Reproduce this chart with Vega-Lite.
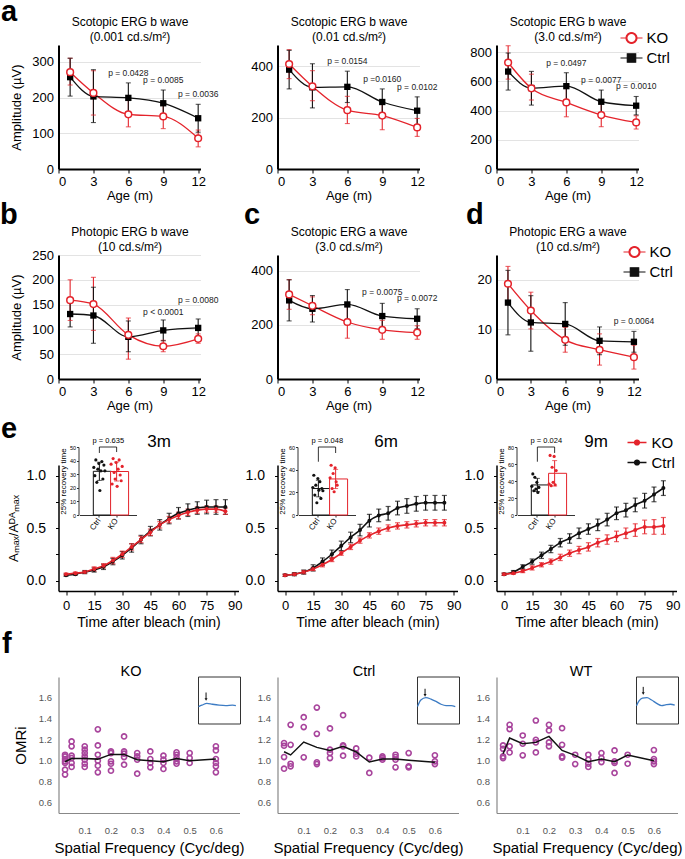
{
"$schema": "https://vega.github.io/schema/vega-lite/v6.json",
"background": "white",
"padding": {"left": -0.5, "top": -3, "right": 2, "bottom": 2},
"bounds": "flush",
"columns": 3,
"spacing": {"row": 86, "column": 38},
"config": {
  "font": "Liberation Sans",
  "view": {"stroke": null},
  "axis": {"grid": false, "domainColor": "#000", "tickColor": "#000", "labelColor": "#000", "titleColor": "#000", "titleFontWeight": "normal", "labelFontSize": 13, "titleFontSize": 13, "labelFont": "Liberation Sans", "titleFont": "Liberation Sans", "labelOverlap": false},
  "title": {"fontWeight": "normal", "color": "#000", "font": "Liberation Sans"},
  "legend": {"labelFont": "Liberation Sans", "padding": 0}
},
"datasets": {
  "a1": [
    {"age":1,"g":"KO","m":271,"lo":235,"hi":310},{"age":3,"g":"KO","m":213,"lo":151,"hi":275},{"age":6,"g":"KO","m":153,"lo":118,"hi":193},{"age":9,"g":"KO","m":147,"lo":113,"hi":182},{"age":12,"g":"KO","m":86,"lo":62,"hi":109},
    {"age":1,"g":"Ctrl","m":257,"lo":204,"hi":310},{"age":3,"g":"Ctrl","m":203,"lo":130,"hi":278},{"age":6,"g":"Ctrl","m":199,"lo":157,"hi":241,"p":"p = 0.0428"},{"age":9,"g":"Ctrl","m":184,"lo":147,"hi":221,"p":"p = 0.0085"},{"age":12,"g":"Ctrl","m":142,"lo":103,"hi":181,"p":"p = 0.0036"}
  ],
  "a2": [
    {"age":1,"g":"KO","m":409,"lo":352,"hi":465},{"age":3,"g":"KO","m":322,"lo":266,"hi":383},{"age":6,"g":"KO","m":229,"lo":177,"hi":283},{"age":9,"g":"KO","m":208,"lo":153,"hi":262},{"age":12,"g":"KO","m":162,"lo":127,"hi":197},
    {"age":1,"g":"Ctrl","m":387,"lo":312,"hi":462},{"age":3,"g":"Ctrl","m":318,"lo":238,"hi":410},{"age":6,"g":"Ctrl","m":320,"lo":259,"hi":381,"p":"p = 0.0154"},{"age":9,"g":"Ctrl","m":261,"lo":210,"hi":312,"p":"p =0.0160"},{"age":12,"g":"Ctrl","m":227,"lo":173,"hi":281,"p":"p = 0.0102"}
  ],
  "a3": [
    {"age":1,"g":"KO","m":730,"lo":616,"hi":845},{"age":3,"g":"KO","m":553,"lo":473,"hi":650},{"age":6,"g":"KO","m":456,"lo":358,"hi":555},{"age":9,"g":"KO","m":370,"lo":290,"hi":455},{"age":12,"g":"KO","m":319,"lo":274,"hi":365},
    {"age":1,"g":"Ctrl","m":668,"lo":541,"hi":795},{"age":3,"g":"Ctrl","m":555,"lo":438,"hi":669},{"age":6,"g":"Ctrl","m":568,"lo":476,"hi":660,"p":"p = 0.0497"},{"age":9,"g":"Ctrl","m":461,"lo":381,"hi":541,"p":"p = 0.0077"},{"age":12,"g":"Ctrl","m":434,"lo":371,"hi":497,"p":"p = 0.0010"}
  ],
  "b": [
    {"age":1,"g":"KO","m":159,"lo":118,"hi":200},{"age":3,"g":"KO","m":151,"lo":98,"hi":205},{"age":6,"g":"KO","m":89,"lo":40,"hi":123},{"age":9,"g":"KO","m":66,"lo":55,"hi":78},{"age":12,"g":"KO","m":81,"lo":72,"hi":91},
    {"age":1,"g":"Ctrl","m":131,"lo":105,"hi":157},{"age":3,"g":"Ctrl","m":128,"lo":72,"hi":185},{"age":6,"g":"Ctrl","m":85,"lo":55,"hi":117},{"age":9,"g":"Ctrl","m":98,"lo":77,"hi":119,"p":"p < 0.0001"},{"age":12,"g":"Ctrl","m":103,"lo":85,"hi":121,"p":"p = 0.0080"}
  ],
  "c": [
    {"age":1,"g":"KO","m":313,"lo":258,"hi":368},{"age":3,"g":"KO","m":271,"lo":238,"hi":304},{"age":6,"g":"KO","m":211,"lo":151,"hi":271},{"age":9,"g":"KO","m":182,"lo":147,"hi":217},{"age":12,"g":"KO","m":172,"lo":147,"hi":197},
    {"age":1,"g":"Ctrl","m":291,"lo":215,"hi":367},{"age":3,"g":"Ctrl","m":260,"lo":211,"hi":309},{"age":6,"g":"Ctrl","m":276,"lo":221,"hi":331},{"age":9,"g":"Ctrl","m":233,"lo":186,"hi":280,"p":"p = 0.0075"},{"age":12,"g":"Ctrl","m":223,"lo":186,"hi":260,"p":"p = 0.0072"}
  ],
  "d": [
    {"age":1,"g":"KO","m":19.2,"lo":15.7,"hi":22.7},{"age":3,"g":"KO","m":13.8,"lo":10.1,"hi":17.5},{"age":6,"g":"KO","m":7.9,"lo":5.4,"hi":10.4},{"age":9,"g":"KO","m":5.9,"lo":2.8,"hi":9.1},{"age":12,"g":"KO","m":4.4,"lo":2.0,"hi":6.8},
    {"age":1,"g":"Ctrl","m":15.4,"lo":8.9,"hi":21.9},{"age":3,"g":"Ctrl","m":11.4,"lo":5.6,"hi":16.8},{"age":6,"g":"Ctrl","m":11.1,"lo":6.8,"hi":15.4},{"age":9,"g":"Ctrl","m":7.7,"lo":4.9,"hi":10.5},{"age":12,"g":"Ctrl","m":7.5,"lo":5.4,"hi":9.6,"p":"p = 0.0064"}
  ],
  "e1": [
    {"t":0,"g":"Ctrl","m":0.05,"lo":0.04,"hi":0.06},{"t":5,"g":"Ctrl","m":0.06,"lo":0.05,"hi":0.07},{"t":10,"g":"Ctrl","m":0.08,"lo":0.065,"hi":0.095},{"t":15,"g":"Ctrl","m":0.10,"lo":0.08,"hi":0.12},{"t":20,"g":"Ctrl","m":0.13,"lo":0.105,"hi":0.155},{"t":25,"g":"Ctrl","m":0.18,"lo":0.15,"hi":0.21},{"t":30,"g":"Ctrl","m":0.24,"lo":0.205,"hi":0.275},{"t":35,"g":"Ctrl","m":0.31,"lo":0.27,"hi":0.35},{"t":40,"g":"Ctrl","m":0.39,"lo":0.35,"hi":0.43},{"t":45,"g":"Ctrl","m":0.47,"lo":0.425,"hi":0.515},{"t":50,"g":"Ctrl","m":0.53,"lo":0.48,"hi":0.58},{"t":55,"g":"Ctrl","m":0.59,"lo":0.54,"hi":0.64},{"t":60,"g":"Ctrl","m":0.64,"lo":0.585,"hi":0.695},{"t":65,"g":"Ctrl","m":0.67,"lo":0.61,"hi":0.73},{"t":70,"g":"Ctrl","m":0.69,"lo":0.63,"hi":0.75},{"t":75,"g":"Ctrl","m":0.70,"lo":0.635,"hi":0.765},{"t":80,"g":"Ctrl","m":0.70,"lo":0.63,"hi":0.77},{"t":85,"g":"Ctrl","m":0.70,"lo":0.63,"hi":0.77},
    {"t":0,"g":"KO","m":0.06,"lo":0.05,"hi":0.07},{"t":5,"g":"KO","m":0.07,"lo":0.06,"hi":0.08},{"t":10,"g":"KO","m":0.08,"lo":0.07,"hi":0.09},{"t":15,"g":"KO","m":0.11,"lo":0.09,"hi":0.13},{"t":20,"g":"KO","m":0.14,"lo":0.12,"hi":0.16},{"t":25,"g":"KO","m":0.19,"lo":0.16,"hi":0.22},{"t":30,"g":"KO","m":0.25,"lo":0.22,"hi":0.28},{"t":35,"g":"KO","m":0.32,"lo":0.29,"hi":0.35},{"t":40,"g":"KO","m":0.39,"lo":0.36,"hi":0.42},{"t":45,"g":"KO","m":0.46,"lo":0.43,"hi":0.49},{"t":50,"g":"KO","m":0.53,"lo":0.50,"hi":0.56},{"t":55,"g":"KO","m":0.58,"lo":0.55,"hi":0.61},{"t":60,"g":"KO","m":0.62,"lo":0.59,"hi":0.65},{"t":65,"g":"KO","m":0.65,"lo":0.62,"hi":0.68},{"t":70,"g":"KO","m":0.67,"lo":0.64,"hi":0.70},{"t":75,"g":"KO","m":0.68,"lo":0.65,"hi":0.71},{"t":80,"g":"KO","m":0.68,"lo":0.65,"hi":0.71},{"t":85,"g":"KO","m":0.66,"lo":0.63,"hi":0.69}
  ],
  "e2": [
    {"t":0,"g":"Ctrl","m":0.05,"lo":0.04,"hi":0.06},{"t":5,"g":"Ctrl","m":0.06,"lo":0.045,"hi":0.075},{"t":10,"g":"Ctrl","m":0.08,"lo":0.06,"hi":0.10},{"t":15,"g":"Ctrl","m":0.12,"lo":0.09,"hi":0.15},{"t":20,"g":"Ctrl","m":0.18,"lo":0.145,"hi":0.215},{"t":25,"g":"Ctrl","m":0.25,"lo":0.21,"hi":0.29},{"t":30,"g":"Ctrl","m":0.33,"lo":0.285,"hi":0.375},{"t":35,"g":"Ctrl","m":0.41,"lo":0.36,"hi":0.46},{"t":40,"g":"Ctrl","m":0.48,"lo":0.425,"hi":0.535},{"t":45,"g":"Ctrl","m":0.57,"lo":0.51,"hi":0.63},{"t":50,"g":"Ctrl","m":0.62,"lo":0.56,"hi":0.68},{"t":55,"g":"Ctrl","m":0.64,"lo":0.575,"hi":0.705},{"t":60,"g":"Ctrl","m":0.69,"lo":0.625,"hi":0.755},{"t":65,"g":"Ctrl","m":0.71,"lo":0.64,"hi":0.78},{"t":70,"g":"Ctrl","m":0.73,"lo":0.66,"hi":0.80},{"t":75,"g":"Ctrl","m":0.74,"lo":0.67,"hi":0.81},{"t":80,"g":"Ctrl","m":0.74,"lo":0.67,"hi":0.81},{"t":85,"g":"Ctrl","m":0.74,"lo":0.67,"hi":0.81},
    {"t":0,"g":"KO","m":0.05,"lo":0.04,"hi":0.06},{"t":5,"g":"KO","m":0.06,"lo":0.05,"hi":0.07},{"t":10,"g":"KO","m":0.08,"lo":0.065,"hi":0.095},{"t":15,"g":"KO","m":0.11,"lo":0.095,"hi":0.125},{"t":20,"g":"KO","m":0.15,"lo":0.13,"hi":0.17},{"t":25,"g":"KO","m":0.20,"lo":0.18,"hi":0.22},{"t":30,"g":"KO","m":0.26,"lo":0.24,"hi":0.28},{"t":35,"g":"KO","m":0.32,"lo":0.295,"hi":0.345},{"t":40,"g":"KO","m":0.38,"lo":0.355,"hi":0.405},{"t":45,"g":"KO","m":0.43,"lo":0.405,"hi":0.455},{"t":50,"g":"KO","m":0.47,"lo":0.44,"hi":0.50},{"t":55,"g":"KO","m":0.50,"lo":0.47,"hi":0.53},{"t":60,"g":"KO","m":0.52,"lo":0.49,"hi":0.55},{"t":65,"g":"KO","m":0.53,"lo":0.50,"hi":0.56},{"t":70,"g":"KO","m":0.54,"lo":0.51,"hi":0.57},{"t":75,"g":"KO","m":0.55,"lo":0.52,"hi":0.58},{"t":80,"g":"KO","m":0.55,"lo":0.52,"hi":0.58},{"t":85,"g":"KO","m":0.55,"lo":0.52,"hi":0.58}
  ],
  "e3": [
    {"t":0,"g":"Ctrl","m":0.06,"lo":0.05,"hi":0.07},{"t":5,"g":"Ctrl","m":0.08,"lo":0.065,"hi":0.095},{"t":10,"g":"Ctrl","m":0.13,"lo":0.11,"hi":0.15},{"t":15,"g":"Ctrl","m":0.18,"lo":0.155,"hi":0.205},{"t":20,"g":"Ctrl","m":0.24,"lo":0.21,"hi":0.27},{"t":25,"g":"Ctrl","m":0.30,"lo":0.265,"hi":0.335},{"t":30,"g":"Ctrl","m":0.36,"lo":0.32,"hi":0.40},{"t":35,"g":"Ctrl","m":0.40,"lo":0.355,"hi":0.445},{"t":40,"g":"Ctrl","m":0.45,"lo":0.40,"hi":0.50},{"t":45,"g":"Ctrl","m":0.49,"lo":0.44,"hi":0.54},{"t":50,"g":"Ctrl","m":0.53,"lo":0.475,"hi":0.585},{"t":55,"g":"Ctrl","m":0.58,"lo":0.52,"hi":0.64},{"t":60,"g":"Ctrl","m":0.64,"lo":0.58,"hi":0.70},{"t":65,"g":"Ctrl","m":0.67,"lo":0.605,"hi":0.735},{"t":70,"g":"Ctrl","m":0.72,"lo":0.655,"hi":0.785},{"t":75,"g":"Ctrl","m":0.76,"lo":0.69,"hi":0.83},{"t":80,"g":"Ctrl","m":0.82,"lo":0.75,"hi":0.89},{"t":85,"g":"Ctrl","m":0.88,"lo":0.81,"hi":0.95},
    {"t":0,"g":"KO","m":0.06,"lo":0.05,"hi":0.07},{"t":5,"g":"KO","m":0.07,"lo":0.06,"hi":0.08},{"t":10,"g":"KO","m":0.09,"lo":0.075,"hi":0.105},{"t":15,"g":"KO","m":0.12,"lo":0.10,"hi":0.14},{"t":20,"g":"KO","m":0.15,"lo":0.13,"hi":0.17},{"t":25,"g":"KO","m":0.18,"lo":0.155,"hi":0.205},{"t":30,"g":"KO","m":0.22,"lo":0.19,"hi":0.25},{"t":35,"g":"KO","m":0.26,"lo":0.23,"hi":0.29},{"t":40,"g":"KO","m":0.29,"lo":0.255,"hi":0.325},{"t":45,"g":"KO","m":0.32,"lo":0.28,"hi":0.36},{"t":50,"g":"KO","m":0.36,"lo":0.32,"hi":0.40},{"t":55,"g":"KO","m":0.39,"lo":0.345,"hi":0.435},{"t":60,"g":"KO","m":0.42,"lo":0.37,"hi":0.47},{"t":65,"g":"KO","m":0.45,"lo":0.40,"hi":0.50},{"t":70,"g":"KO","m":0.48,"lo":0.42,"hi":0.54},{"t":75,"g":"KO","m":0.51,"lo":0.445,"hi":0.575},{"t":80,"g":"KO","m":0.51,"lo":0.44,"hi":0.58},{"t":85,"g":"KO","m":0.52,"lo":0.44,"hi":0.60}
  ],
  "e1i": [
    {"g":"Ctrl","r":1,"v":35},{"g":"Ctrl","r":2,"v":28.9},{"g":"Ctrl","r":3,"v":40.5},{"g":"Ctrl","r":4,"v":24},{"g":"Ctrl","r":5,"v":33.7},{"g":"Ctrl","r":6,"v":37.9},{"g":"Ctrl","r":7,"v":18},{"g":"Ctrl","r":8,"v":32.5},{"g":"Ctrl","r":9,"v":39.3},{"g":"Ctrl","r":10,"v":26.5},{"g":"Ctrl","r":11,"v":36.7},{"g":"Ctrl","r":12,"v":32.5},
    {"g":"KO","r":1,"v":37.4},{"g":"KO","r":2,"v":22.8},{"g":"KO","r":3,"v":41.5},{"g":"KO","r":4,"v":31.3},{"g":"KO","r":5,"v":26.5},{"g":"KO","r":6,"v":38.6},{"g":"KO","r":7,"v":21.1},{"g":"KO","r":8,"v":33.7},{"g":"KO","r":9,"v":40.5},{"g":"KO","r":10,"v":29.4},{"g":"KO","r":11,"v":25.2},{"g":"KO","r":12,"v":35.7}
  ],
  "e2i": [
    {"g":"Ctrl","r":1,"v":24.3},{"g":"Ctrl","r":2,"v":35.1},{"g":"Ctrl","r":3,"v":17.6},{"g":"Ctrl","r":4,"v":26.3},{"g":"Ctrl","r":5,"v":10.8},{"g":"Ctrl","r":6,"v":32.2},{"g":"Ctrl","r":7,"v":21.9},{"g":"Ctrl","r":8,"v":29.3},{"g":"Ctrl","r":9,"v":14.6},{"g":"Ctrl","r":10,"v":23.4},{"g":"Ctrl","r":11,"v":21.4},
    {"g":"KO","r":1,"v":32.8},{"g":"KO","r":2,"v":43.9},{"g":"KO","r":3,"v":23.4},{"g":"KO","r":4,"v":36.6},{"g":"KO","r":5,"v":20.5},{"g":"KO","r":6,"v":41.6},{"g":"KO","r":7,"v":29.3},{"g":"KO","r":8,"v":26.3}
  ],
  "e3i": [
    {"g":"Ctrl","r":1,"v":33.7},{"g":"Ctrl","r":2,"v":48.3},{"g":"Ctrl","r":3,"v":28.5},{"g":"Ctrl","r":4,"v":44.4},{"g":"Ctrl","r":5,"v":30.5},{"g":"Ctrl","r":6,"v":38.4},{"g":"Ctrl","r":7,"v":26.5},{"g":"Ctrl","r":8,"v":32.5},
    {"g":"KO","r":1,"v":36.4},{"g":"KO","r":2,"v":70.1},{"g":"KO","r":3,"v":34.5},{"g":"KO","r":4,"v":56.2},{"g":"KO","r":5,"v":38.4},{"g":"KO","r":6,"v":68.9},{"g":"KO","r":7,"v":35.6},{"g":"KO","r":8,"v":52.3}
  ],
  "fko": [
    {"x":0.025,"m":0.99,"vs":[1.057,1.041,1.016,0.994,0.978,0.914,0.867]},
    {"x":0.05,"m":1.02,"vs":[1.184,1.137,1.048,1.025,0.978,0.94]},
    {"x":0.1,"m":1.02,"vs":[1.137,1.105,1.073,1.041,1.01,0.971,0.94]},
    {"x":0.15,"m":1.015,"vs":[1.30,1.146,1.057,1.0,0.952,0.889]},
    {"x":0.2,"m":1.06,"vs":[1.089,1.073,0.994,0.971,0.905]},
    {"x":0.25,"m":1.06,"vs":[1.232,1.089,1.067,1.035,0.962]},
    {"x":0.3,"m":1.01,"vs":[1.073,1.041,1.01,0.876]},
    {"x":0.35,"m":1.0,"vs":[1.089,1.016,0.978,0.937]},
    {"x":0.4,"m":0.99,"vs":[1.048,1.01,0.978,0.921]},
    {"x":0.45,"m":1.02,"vs":[1.08,1.057,1.025,0.994,0.971]},
    {"x":0.5,"m":1.0,"vs":[1.073,1.025,0.978]},
    {"x":0.6,"m":1.015,"vs":[1.137,1.098,1.016,0.978,0.946,0.889]}
  ],
  "fctrl": [
    {"x":0.025,"m":1.085,"vs":[1.168,1.143,1.035,0.924]},
    {"x":0.05,"m":1.055,"vs":[1.343,1.152,0.971,0.946]},
    {"x":0.1,"m":1.178,"vs":[1.416,1.321,1.032]},
    {"x":0.15,"m":1.127,"vs":[1.508,1.257,0.984,0.968]},
    {"x":0.2,"m":1.098,"vs":[1.308,1.105,1.073,1.025]},
    {"x":0.25,"m":1.137,"vs":[1.435,1.146,1.137,1.048]},
    {"x":0.3,"m":1.083,"vs":[1.117,1.067,1.041]},
    {"x":0.35,"m":0.987,"vs":[1.029,0.883]},
    {"x":0.4,"m":1.016,"vs":[1.041,1.025,1.01]},
    {"x":0.45,"m":1.016,"vs":[1.057,1.035,1.01,0.937]},
    {"x":0.5,"m":1.005,"vs":[1.073,0.946,0.937]},
    {"x":0.6,"m":0.984,"vs":[1.051,0.994,0.968]}
  ],
  "fwt": [
    {"x":0.025,"m":1.067,"vs":[1.146,1.114,1.041,1.025]},
    {"x":0.05,"m":1.216,"vs":[1.343,1.302,1.137,1.079]},
    {"x":0.1,"m":1.162,"vs":[1.241,1.162,1.051]},
    {"x":0.15,"m":1.175,"vs":[1.384,1.2,1.175,1.079]},
    {"x":0.2,"m":1.232,"vs":[1.343,1.289,1.175,1.137]},
    {"x":0.25,"m":1.098,"vs":[1.311,1.152,1.041,1.029]},
    {"x":0.3,"m":1.051,"vs":[1.057,0.968]},
    {"x":0.35,"m":0.99,"vs":[1.057,1.01,0.971,0.94]},
    {"x":0.4,"m":1.016,"vs":[1.073,1.025,0.987]},
    {"x":0.45,"m":0.99,"vs":[1.098,0.994,0.978,0.883]},
    {"x":0.5,"m":1.054,"vs":[1.057,0.971]},
    {"x":0.6,"m":1.0,"vs":[1.102,1.016,0.994,0.968]}
  ],
  "cko": [{"cx":0,"cy":0.37},{"cx":0.08,"cy":0.40},{"cx":0.2,"cy":0.44},{"cx":0.33,"cy":0.42},{"cx":0.49,"cy":0.40},{"cx":0.65,"cy":0.39},{"cx":0.81,"cy":0.40},{"cx":0.89,"cy":0.39}],
  "cctrl": [{"cx":0,"cy":0.37},{"cx":0.08,"cy":0.51},{"cx":0.2,"cy":0.56},{"cx":0.32,"cy":0.53},{"cx":0.44,"cy":0.48},{"cx":0.56,"cy":0.42},{"cx":0.68,"cy":0.39},{"cx":0.8,"cy":0.39},{"cx":0.9,"cy":0.37}],
  "cwt": [{"cx":0,"cy":0.39},{"cx":0.06,"cy":0.49},{"cx":0.14,"cy":0.55},{"cx":0.25,"cy":0.56},{"cx":0.36,"cy":0.51},{"cx":0.48,"cy":0.44},{"cx":0.6,"cy":0.39},{"cx":0.71,"cy":0.41},{"cx":0.81,"cy":0.42},{"cx":0.91,"cy":0.40}]
},
"concat": [
{
 "width": 142, "height": 124,
 "data": {"name": "a1"},
 "resolve": {"axis": {"x": "independent", "y": "independent"}},
 "layer": [
  {"layer": [
   {"mark": {"type": "rule", "strokeWidth": 1.1}, "encoding": {
     "x": {"field": "age", "type": "quantitative", "scale": {"domain": [0, 12.2], "nice": false}, "axis": {"values": [0,3,6,9,12], "tickCount": 20, "format": "d", "title": "Age (m)", "tickSize": 4, "domainWidth": 2, "labelPadding": 2, "titlePadding": 1}},
     "y": {"field": "lo", "type": "quantitative", "scale": {"domain": [0, 347], "nice": false}, "axis": {"values": [0,100,200,300], "tickCount": 20, "format": "d", "title": "Amplitude (µV)", "grid": true, "gridColor": "#e3e3e3", "ticks": false, "domainWidth": 2, "labelPadding": 5, "titlePadding": 8}},
     "y2": {"field": "hi"},
     "stroke": {"field": "g", "type": "nominal", "scale": {"domain": ["KO","Ctrl"], "range": ["#e4232b","#111111"]}, "legend": null}}},
   {"mark": {"type": "tick", "orient": "horizontal", "size": 5, "thickness": 1.1}, "encoding": {"x": {"field": "age", "type": "quantitative"}, "y": {"field": "hi", "type": "quantitative"}, "color": {"field": "g", "type": "nominal", "scale": {"domain": ["KO","Ctrl"], "range": ["#e4232b","#111111"]}, "legend": null}}},
   {"mark": {"type": "tick", "orient": "horizontal", "size": 5, "thickness": 1.1}, "encoding": {"x": {"field": "age", "type": "quantitative"}, "y": {"field": "lo", "type": "quantitative"}, "color": {"field": "g", "type": "nominal", "legend": null}}},
   {"mark": {"type": "line", "interpolate": "monotone", "strokeWidth": 1.3}, "encoding": {"x": {"field": "age", "type": "quantitative"}, "y": {"field": "m", "type": "quantitative"}, "stroke": {"field": "g", "type": "nominal", "legend": null}}},
   {"transform": [{"filter": "datum.g == 'Ctrl'"}], "mark": {"type": "point", "shape": "square", "filled": true, "color": "#000", "opacity": 1, "size": 40}, "encoding": {"x": {"field": "age", "type": "quantitative"}, "y": {"field": "m", "type": "quantitative"}}},
   {"transform": [{"filter": "datum.g == 'KO'"}], "mark": {"type": "point", "shape": "circle", "filled": true, "fill": "#fff", "stroke": "#e4232b", "strokeWidth": 1.5, "opacity": 1, "size": 45}, "encoding": {"x": {"field": "age", "type": "quantitative"}, "y": {"field": "m", "type": "quantitative"}}},
   {"transform": [{"filter": "isValid(datum.p)"}], "mark": {"type": "text", "fontSize": 8.5, "dy": -10, "color": "#222"}, "encoding": {"x": {"field": "age", "type": "quantitative"}, "y": {"field": "hi", "type": "quantitative"}, "text": {"field": "p", "type": "nominal"}}}
  ]},
  {"mark": {"type": "text"}, "encoding": {
    "x": {"datum": 0, "type": "quantitative", "axis": {"orient": "top", "domain": false, "ticks": false, "labels": false, "grid": false, "title": ["Scotopic ERG b wave", "(0.001 cd.s/m²)"], "titleFontSize": 12, "titleLineHeight": 15, "titlePadding": 2}},
    "y": {"datum": 0, "type": "quantitative", "axis": {"orient": "left", "domain": false, "ticks": false, "labels": false, "grid": false, "title": "a", "titleAngle": 0, "titleFontSize": 29, "titleFontWeight": "bold", "titleAlign": "left", "titleBaseline": "alphabetic", "titleX": -58, "titleY": -25}},
    "text": {"value": ""}}}
 ]
},
{
 "width": 142, "height": 124,
 "data": {"name": "a2"},
 "resolve": {"axis": {"x": "independent"}},
 "layer": [
  {"layer": [
   {"mark": {"type": "rule", "strokeWidth": 1.1}, "encoding": {
     "x": {"field": "age", "type": "quantitative", "scale": {"domain": [0, 12.2], "nice": false}, "axis": {"values": [0,3,6,9,12], "tickCount": 20, "format": "d", "title": "Age (m)", "tickSize": 4, "domainWidth": 2, "labelPadding": 2, "titlePadding": 1}},
     "y": {"field": "lo", "type": "quantitative", "scale": {"domain": [0, 483], "nice": false}, "axis": {"values": [0,200,400], "tickCount": 20, "format": "d", "title": null, "grid": true, "gridColor": "#e3e3e3", "ticks": false, "domainWidth": 2, "labelPadding": 5}},
     "y2": {"field": "hi"},
     "stroke": {"field": "g", "type": "nominal", "scale": {"domain": ["KO","Ctrl"], "range": ["#e4232b","#111111"]}, "legend": null}}},
   {"mark": {"type": "tick", "orient": "horizontal", "size": 5, "thickness": 1.1}, "encoding": {"x": {"field": "age", "type": "quantitative"}, "y": {"field": "hi", "type": "quantitative"}, "color": {"field": "g", "type": "nominal", "scale": {"domain": ["KO","Ctrl"], "range": ["#e4232b","#111111"]}, "legend": null}}},
   {"mark": {"type": "tick", "orient": "horizontal", "size": 5, "thickness": 1.1}, "encoding": {"x": {"field": "age", "type": "quantitative"}, "y": {"field": "lo", "type": "quantitative"}, "color": {"field": "g", "type": "nominal", "legend": null}}},
   {"mark": {"type": "line", "interpolate": "monotone", "strokeWidth": 1.3}, "encoding": {"x": {"field": "age", "type": "quantitative"}, "y": {"field": "m", "type": "quantitative"}, "stroke": {"field": "g", "type": "nominal", "legend": null}}},
   {"transform": [{"filter": "datum.g == 'Ctrl'"}], "mark": {"type": "point", "shape": "square", "filled": true, "color": "#000", "opacity": 1, "size": 40}, "encoding": {"x": {"field": "age", "type": "quantitative"}, "y": {"field": "m", "type": "quantitative"}}},
   {"transform": [{"filter": "datum.g == 'KO'"}], "mark": {"type": "point", "shape": "circle", "filled": true, "fill": "#fff", "stroke": "#e4232b", "strokeWidth": 1.5, "opacity": 1, "size": 45}, "encoding": {"x": {"field": "age", "type": "quantitative"}, "y": {"field": "m", "type": "quantitative"}}},
   {"transform": [{"filter": "isValid(datum.p)"}], "mark": {"type": "text", "fontSize": 8.5, "dy": -10, "color": "#222"}, "encoding": {"x": {"field": "age", "type": "quantitative"}, "y": {"field": "hi", "type": "quantitative"}, "text": {"field": "p", "type": "nominal"}}}
  ]},
  {"mark": {"type": "text"}, "encoding": {
    "x": {"datum": 0, "type": "quantitative", "axis": {"orient": "top", "domain": false, "ticks": false, "labels": false, "grid": false, "title": ["Scotopic ERG b wave", "(0.01 cd.s/m²)"], "titleFontSize": 12, "titleLineHeight": 15, "titlePadding": 2}},
    "text": {"value": ""}}}
 ]
},
{
 "width": 142, "height": 124,
 "data": {"name": "a3"},
 "resolve": {"axis": {"x": "independent"}},
 "layer": [
  {"layer": [
   {"mark": {"type": "rule", "strokeWidth": 1.1}, "encoding": {
     "x": {"field": "age", "type": "quantitative", "scale": {"domain": [0, 12.2], "nice": false}, "axis": {"values": [0,3,6,9,12], "tickCount": 20, "format": "d", "title": "Age (m)", "tickSize": 4, "domainWidth": 2, "labelPadding": 2, "titlePadding": 1}},
     "y": {"field": "lo", "type": "quantitative", "scale": {"domain": [0, 850], "nice": false}, "axis": {"values": [0,200,400,600,800], "tickCount": 20, "format": "d", "title": null, "grid": true, "gridColor": "#e3e3e3", "ticks": false, "domainWidth": 2, "labelPadding": 5}},
     "y2": {"field": "hi"},
     "stroke": {"field": "g", "type": "nominal", "scale": {"domain": ["KO","Ctrl"], "range": ["#e4232b","#111111"]}}}},
   {"mark": {"type": "tick", "orient": "horizontal", "size": 5, "thickness": 1.1}, "encoding": {"x": {"field": "age", "type": "quantitative"}, "y": {"field": "hi", "type": "quantitative"}, "color": {"field": "g", "type": "nominal", "scale": {"domain": ["KO","Ctrl"], "range": ["#e4232b","#111111"]}, "legend": null}}},
   {"mark": {"type": "tick", "orient": "horizontal", "size": 5, "thickness": 1.1}, "encoding": {"x": {"field": "age", "type": "quantitative"}, "y": {"field": "lo", "type": "quantitative"}, "color": {"field": "g", "type": "nominal", "legend": null}}},
   {"mark": {"type": "line", "interpolate": "monotone", "strokeWidth": 1.3}, "encoding": {"x": {"field": "age", "type": "quantitative"}, "y": {"field": "m", "type": "quantitative"}, "stroke": {"field": "g", "type": "nominal"}}},
   {"transform": [{"filter": "datum.g == 'Ctrl'"}], "mark": {"type": "point", "shape": "square", "filled": true, "color": "#000", "opacity": 1, "size": 40}, "encoding": {"x": {"field": "age", "type": "quantitative"}, "y": {"field": "m", "type": "quantitative"}}},
   {"transform": [{"filter": "datum.g == 'KO'"}], "mark": {"type": "point", "shape": "circle", "filled": true, "fill": "#fff", "stroke": "#e4232b", "strokeWidth": 1.5, "opacity": 1, "size": 45}, "encoding": {"x": {"field": "age", "type": "quantitative"}, "y": {"field": "m", "type": "quantitative"}}},
   {"transform": [{"filter": "isValid(datum.p)"}], "mark": {"type": "text", "fontSize": 8.5, "dy": -10, "color": "#222"}, "encoding": {"x": {"field": "age", "type": "quantitative"}, "y": {"field": "hi", "type": "quantitative"}, "text": {"field": "p", "type": "nominal"}}},
   {"transform": [{"filter": "false"}], "mark": {"type": "point", "filled": true, "opacity": 1, "strokeWidth": 1.2}, "encoding": {
     "shape": {"field": "g", "type": "nominal", "scale": {"domain": ["KO","Ctrl"], "range": ["M-1,0H-0.5M0.5,0H1M-0.5,0A0.5,0.5,0,1,0,0.5,0A0.5,0.5,0,1,0,-0.5,0ZM-0.42,0A0.42,0.42,0,1,1,0.42,0A0.42,0.42,0,1,1,-0.42,0Z", "M-1,0H1M-0.38,-0.38H0.38V0.38H-0.38Z"]}, "legend": {"orient": "none", "legendX": 123, "legendY": -19, "title": null, "labelFontSize": 15, "symbolSize": 484, "symbolStrokeWidth": 1.2, "rowPadding": -6, "labelOffset": 3}},
     "fill": {"field": "g", "type": "nominal", "scale": {"domain": ["KO","Ctrl"], "range": ["#e4232b","#111111"]}, "legend": {"orient": "none", "legendX": 123, "legendY": -19, "title": null, "labelFontSize": 15, "symbolSize": 484, "symbolStrokeWidth": 1.2, "rowPadding": -6, "labelOffset": 3}},
     "stroke": {"field": "g", "type": "nominal", "legend": {"orient": "none", "legendX": 123, "legendY": -19, "title": null, "labelFontSize": 15, "symbolSize": 484, "symbolStrokeWidth": 1.2, "rowPadding": -6, "labelOffset": 3}}}}
  ]},
  {"mark": {"type": "text"}, "encoding": {
    "x": {"datum": 0, "type": "quantitative", "axis": {"orient": "top", "domain": false, "ticks": false, "labels": false, "grid": false, "title": ["Scotopic ERG b wave", "(3.0 cd.s/m²)"], "titleFontSize": 12, "titleLineHeight": 15, "titlePadding": 2}},
    "text": {"value": ""}}}
 ]
},
{
 "width": 142, "height": 124,
 "data": {"name": "b"},
 "resolve": {"axis": {"x": "independent", "y": "independent"}},
 "layer": [
  {"layer": [
   {"mark": {"type": "rule", "strokeWidth": 1.1}, "encoding": {
     "x": {"field": "age", "type": "quantitative", "scale": {"domain": [0, 12.2], "nice": false}, "axis": {"values": [0,3,6,9,12], "tickCount": 20, "format": "d", "title": "Age (m)", "tickSize": 4, "domainWidth": 2, "labelPadding": 2, "titlePadding": 1}},
     "y": {"field": "lo", "type": "quantitative", "scale": {"domain": [0, 250], "nice": false}, "axis": {"values": [0,50,100,150,200,250], "tickCount": 20, "format": "d", "title": "Amplitude (µV)", "grid": true, "gridColor": "#e3e3e3", "ticks": false, "domainWidth": 2, "labelPadding": 5, "titlePadding": 8}},
     "y2": {"field": "hi"},
     "stroke": {"field": "g", "type": "nominal", "scale": {"domain": ["KO","Ctrl"], "range": ["#e4232b","#111111"]}, "legend": null}}},
   {"mark": {"type": "tick", "orient": "horizontal", "size": 5, "thickness": 1.1}, "encoding": {"x": {"field": "age", "type": "quantitative"}, "y": {"field": "hi", "type": "quantitative"}, "color": {"field": "g", "type": "nominal", "scale": {"domain": ["KO","Ctrl"], "range": ["#e4232b","#111111"]}, "legend": null}}},
   {"mark": {"type": "tick", "orient": "horizontal", "size": 5, "thickness": 1.1}, "encoding": {"x": {"field": "age", "type": "quantitative"}, "y": {"field": "lo", "type": "quantitative"}, "color": {"field": "g", "type": "nominal", "legend": null}}},
   {"mark": {"type": "line", "interpolate": "monotone", "strokeWidth": 1.3}, "encoding": {"x": {"field": "age", "type": "quantitative"}, "y": {"field": "m", "type": "quantitative"}, "stroke": {"field": "g", "type": "nominal", "legend": null}}},
   {"transform": [{"filter": "datum.g == 'Ctrl'"}], "mark": {"type": "point", "shape": "square", "filled": true, "color": "#000", "opacity": 1, "size": 40}, "encoding": {"x": {"field": "age", "type": "quantitative"}, "y": {"field": "m", "type": "quantitative"}}},
   {"transform": [{"filter": "datum.g == 'KO'"}], "mark": {"type": "point", "shape": "circle", "filled": true, "fill": "#fff", "stroke": "#e4232b", "strokeWidth": 1.5, "opacity": 1, "size": 45}, "encoding": {"x": {"field": "age", "type": "quantitative"}, "y": {"field": "m", "type": "quantitative"}}},
   {"transform": [{"filter": "isValid(datum.p) && datum.age == 9"}], "mark": {"type": "text", "fontSize": 8.5, "dy": -8, "color": "#222"}, "encoding": {"x": {"field": "age", "type": "quantitative"}, "y": {"field": "hi", "type": "quantitative"}, "text": {"field": "p", "type": "nominal"}}},
   {"transform": [{"filter": "isValid(datum.p) && datum.age == 12"}], "mark": {"type": "text", "fontSize": 8.5, "dy": -19, "color": "#222"}, "encoding": {"x": {"field": "age", "type": "quantitative"}, "y": {"field": "hi", "type": "quantitative"}, "text": {"field": "p", "type": "nominal"}}}
  ]},
  {"mark": {"type": "text"}, "encoding": {
    "x": {"datum": 0, "type": "quantitative", "axis": {"orient": "top", "domain": false, "ticks": false, "labels": false, "grid": false, "title": ["Photopic ERG b wave", "(10 cd.s/m²)"], "titleFontSize": 12, "titleLineHeight": 15, "titlePadding": 2}},
    "y": {"datum": 0, "type": "quantitative", "axis": {"orient": "left", "domain": false, "ticks": false, "labels": false, "grid": false, "title": "b", "titleAngle": 0, "titleFontSize": 29, "titleFontWeight": "bold", "titleAlign": "left", "titleBaseline": "alphabetic", "titleX": -59, "titleY": -32}},
    "text": {"value": ""}}}
 ]
},
{
 "width": 142, "height": 124,
 "data": {"name": "c"},
 "resolve": {"axis": {"x": "independent", "y": "independent"}},
 "layer": [
  {"layer": [
   {"mark": {"type": "rule", "strokeWidth": 1.1}, "encoding": {
     "x": {"field": "age", "type": "quantitative", "scale": {"domain": [0, 12.2], "nice": false}, "axis": {"values": [0,3,6,9,12], "tickCount": 20, "format": "d", "title": "Age (m)", "tickSize": 4, "domainWidth": 2, "labelPadding": 2, "titlePadding": 1}},
     "y": {"field": "lo", "type": "quantitative", "scale": {"domain": [0, 459], "nice": false}, "axis": {"values": [0,200,400], "tickCount": 20, "format": "d", "title": null, "grid": true, "gridColor": "#e3e3e3", "ticks": false, "domainWidth": 2, "labelPadding": 5}},
     "y2": {"field": "hi"},
     "stroke": {"field": "g", "type": "nominal", "scale": {"domain": ["KO","Ctrl"], "range": ["#e4232b","#111111"]}, "legend": null}}},
   {"mark": {"type": "tick", "orient": "horizontal", "size": 5, "thickness": 1.1}, "encoding": {"x": {"field": "age", "type": "quantitative"}, "y": {"field": "hi", "type": "quantitative"}, "color": {"field": "g", "type": "nominal", "scale": {"domain": ["KO","Ctrl"], "range": ["#e4232b","#111111"]}, "legend": null}}},
   {"mark": {"type": "tick", "orient": "horizontal", "size": 5, "thickness": 1.1}, "encoding": {"x": {"field": "age", "type": "quantitative"}, "y": {"field": "lo", "type": "quantitative"}, "color": {"field": "g", "type": "nominal", "legend": null}}},
   {"mark": {"type": "line", "interpolate": "monotone", "strokeWidth": 1.3}, "encoding": {"x": {"field": "age", "type": "quantitative"}, "y": {"field": "m", "type": "quantitative"}, "stroke": {"field": "g", "type": "nominal", "legend": null}}},
   {"transform": [{"filter": "datum.g == 'Ctrl'"}], "mark": {"type": "point", "shape": "square", "filled": true, "color": "#000", "opacity": 1, "size": 40}, "encoding": {"x": {"field": "age", "type": "quantitative"}, "y": {"field": "m", "type": "quantitative"}}},
   {"transform": [{"filter": "datum.g == 'KO'"}], "mark": {"type": "point", "shape": "circle", "filled": true, "fill": "#fff", "stroke": "#e4232b", "strokeWidth": 1.5, "opacity": 1, "size": 45}, "encoding": {"x": {"field": "age", "type": "quantitative"}, "y": {"field": "m", "type": "quantitative"}}},
   {"transform": [{"filter": "isValid(datum.p)"}], "mark": {"type": "text", "fontSize": 8.5, "dy": -11, "color": "#222"}, "encoding": {"x": {"field": "age", "type": "quantitative"}, "y": {"field": "hi", "type": "quantitative"}, "text": {"field": "p", "type": "nominal"}}}
  ]},
  {"mark": {"type": "text"}, "encoding": {
    "x": {"datum": 0, "type": "quantitative", "axis": {"orient": "top", "domain": false, "ticks": false, "labels": false, "grid": false, "title": ["Scotopic ERG a wave", "(3.0 cd.s/m²)"], "titleFontSize": 12, "titleLineHeight": 15, "titlePadding": 2}},
    "y": {"datum": 0, "type": "quantitative", "axis": {"orient": "left", "domain": false, "ticks": false, "labels": false, "grid": false, "title": "c", "titleAngle": 0, "titleFontSize": 29, "titleFontWeight": "bold", "titleAlign": "left", "titleBaseline": "alphabetic", "titleX": -34, "titleY": -32}},
    "text": {"value": ""}}}
 ]
},
{
 "width": 142, "height": 124,
 "data": {"name": "d"},
 "resolve": {"axis": {"x": "independent", "y": "independent"}},
 "layer": [
  {"layer": [
   {"mark": {"type": "rule", "strokeWidth": 1.1}, "encoding": {
     "x": {"field": "age", "type": "quantitative", "scale": {"domain": [0, 12.4], "nice": false}, "axis": {"values": [0,3,6,9,12], "tickCount": 20, "format": "d", "title": "Age (m)", "tickSize": 4, "domainWidth": 2, "labelPadding": 2, "titlePadding": 1}},
     "y": {"field": "lo", "type": "quantitative", "scale": {"domain": [0, 25], "nice": false}, "axis": {"values": [0,10,20], "tickCount": 20, "format": "d", "title": null, "grid": true, "gridColor": "#e3e3e3", "ticks": false, "domainWidth": 2, "labelPadding": 5}},
     "y2": {"field": "hi"},
     "stroke": {"field": "g", "type": "nominal", "scale": {"domain": ["KO","Ctrl"], "range": ["#e4232b","#111111"]}}}},
   {"mark": {"type": "tick", "orient": "horizontal", "size": 5, "thickness": 1.1}, "encoding": {"x": {"field": "age", "type": "quantitative"}, "y": {"field": "hi", "type": "quantitative"}, "color": {"field": "g", "type": "nominal", "scale": {"domain": ["KO","Ctrl"], "range": ["#e4232b","#111111"]}, "legend": null}}},
   {"mark": {"type": "tick", "orient": "horizontal", "size": 5, "thickness": 1.1}, "encoding": {"x": {"field": "age", "type": "quantitative"}, "y": {"field": "lo", "type": "quantitative"}, "color": {"field": "g", "type": "nominal", "legend": null}}},
   {"mark": {"type": "line", "interpolate": "monotone", "strokeWidth": 1.3}, "encoding": {"x": {"field": "age", "type": "quantitative"}, "y": {"field": "m", "type": "quantitative"}, "stroke": {"field": "g", "type": "nominal"}}},
   {"transform": [{"filter": "datum.g == 'Ctrl'"}], "mark": {"type": "point", "shape": "square", "filled": true, "color": "#000", "opacity": 1, "size": 40}, "encoding": {"x": {"field": "age", "type": "quantitative"}, "y": {"field": "m", "type": "quantitative"}}},
   {"transform": [{"filter": "datum.g == 'KO'"}], "mark": {"type": "point", "shape": "circle", "filled": true, "fill": "#fff", "stroke": "#e4232b", "strokeWidth": 1.5, "opacity": 1, "size": 45}, "encoding": {"x": {"field": "age", "type": "quantitative"}, "y": {"field": "m", "type": "quantitative"}}},
   {"transform": [{"filter": "isValid(datum.p)"}], "mark": {"type": "text", "fontSize": 8.5, "dy": -10, "color": "#222"}, "encoding": {"x": {"field": "age", "type": "quantitative"}, "y": {"field": "hi", "type": "quantitative"}, "text": {"field": "p", "type": "nominal"}}},
   {"transform": [{"filter": "false"}], "mark": {"type": "point", "filled": true, "opacity": 1, "strokeWidth": 1.2}, "encoding": {
     "shape": {"field": "g", "type": "nominal", "scale": {"domain": ["KO","Ctrl"], "range": ["M-1,0H-0.5M0.5,0H1M-0.5,0A0.5,0.5,0,1,0,0.5,0A0.5,0.5,0,1,0,-0.5,0ZM-0.42,0A0.42,0.42,0,1,1,0.42,0A0.42,0.42,0,1,1,-0.42,0Z", "M-1,0H1M-0.38,-0.38H0.38V0.38H-0.38Z"]}, "legend": {"orient": "none", "legendX": 126, "legendY": -15, "title": null, "labelFontSize": 15, "symbolSize": 484, "symbolStrokeWidth": 1.2, "rowPadding": -6, "labelOffset": 3}},
     "fill": {"field": "g", "type": "nominal", "scale": {"domain": ["KO","Ctrl"], "range": ["#e4232b","#111111"]}, "legend": {"orient": "none", "legendX": 126, "legendY": -15, "title": null, "labelFontSize": 15, "symbolSize": 484, "symbolStrokeWidth": 1.2, "rowPadding": -6, "labelOffset": 3}},
     "stroke": {"field": "g", "type": "nominal", "legend": {"orient": "none", "legendX": 126, "legendY": -15, "title": null, "labelFontSize": 15, "symbolSize": 484, "symbolStrokeWidth": 1.2, "rowPadding": -6, "labelOffset": 3}}}}
  ]},
  {"mark": {"type": "text"}, "encoding": {
    "x": {"datum": 0, "type": "quantitative", "axis": {"orient": "top", "domain": false, "ticks": false, "labels": false, "grid": false, "title": ["Photopic ERG a wave", "(10 cd.s/m²)"], "titleFontSize": 12, "titleLineHeight": 15, "titlePadding": 2}},
    "y": {"datum": 0, "type": "quantitative", "axis": {"orient": "left", "domain": false, "ticks": false, "labels": false, "grid": false, "title": "d", "titleAngle": 0, "titleFontSize": 29, "titleFontWeight": "bold", "titleAlign": "left", "titleBaseline": "alphabetic", "titleX": -31, "titleY": -32}},
    "text": {"value": ""}}}
 ]
},
{
 "width": 180, "height": 126,
 "resolve": {"scale": {"x": "independent", "y": "independent"}},
 "layer": [
  {"data": {"name": "e1"}, "resolve": {"axis": {"x": "independent", "y": "independent"}}, "layer": [
   {"layer": [
    {"mark": {"type": "rule", "strokeWidth": 1.2}, "encoding": {
      "x": {"field": "t", "type": "quantitative", "scale": {"domain": [-4, 92], "nice": false}, "axis": {"values": [0,15,30,45,60,75,90], "tickCount": 20, "format": "d", "title": "Time after bleach (min)", "tickSize": 4, "domainWidth": 1.5, "labelPadding": 4, "titlePadding": 3, "titleFontSize": 14}},
      "y": {"field": "lo", "type": "quantitative", "scale": {"domain": [-0.1, 1.1], "nice": false}, "axis": {"values": [0,0.25,0.5,0.75,1], "tickCount": 20, "labelExpr": "datum.value == 0.25 || datum.value == 0.75 ? '' : format(datum.value, '.1f')", "title": "Aₘₐₓ/Aᴰᴬₘₐₓ", "tickSize": 3, "domainWidth": 1.5, "labelFontSize": 14, "labelPadding": 10, "titlePadding": 6, "titleFontSize": 13}},
      "y2": {"field": "hi"},
      "stroke": {"field": "g", "type": "nominal", "scale": {"domain": ["KO","Ctrl"], "range": ["#e4232b","#111111"]}, "legend": null}}},
    {"mark": {"type": "tick", "orient": "horizontal", "size": 5, "thickness": 1.2}, "encoding": {"x": {"field": "t", "type": "quantitative"}, "y": {"field": "hi", "type": "quantitative"}, "color": {"field": "g", "type": "nominal", "scale": {"domain": ["KO","Ctrl"], "range": ["#e4232b","#111111"]}, "legend": null}}},
    {"mark": {"type": "tick", "orient": "horizontal", "size": 5, "thickness": 1.2}, "encoding": {"x": {"field": "t", "type": "quantitative"}, "y": {"field": "lo", "type": "quantitative"}, "color": {"field": "g", "type": "nominal", "legend": null}}},
    {"mark": {"type": "line", "interpolate": "monotone", "strokeWidth": 1.6}, "encoding": {"x": {"field": "t", "type": "quantitative"}, "y": {"field": "m", "type": "quantitative"}, "stroke": {"field": "g", "type": "nominal", "legend": null}}},
    {"mark": {"type": "point", "filled": true, "opacity": 1, "size": 16}, "encoding": {"x": {"field": "t", "type": "quantitative"}, "y": {"field": "m", "type": "quantitative"}, "color": {"field": "g", "type": "nominal", "legend": null}}}
   ]},
   {"mark": {"type": "text"}, "encoding": {
     "x": {"datum": 0, "type": "quantitative", "axis": {"orient": "top", "domain": false, "ticks": false, "labels": false, "grid": false, "title": "3m", "titleFontSize": 17, "titleAlign": "center", "titleBaseline": "alphabetic", "titleX": 100, "titleY": -19}},
     "y": {"datum": 0, "type": "quantitative", "axis": {"orient": "left", "domain": false, "ticks": false, "labels": false, "grid": false, "title": "e", "titleAngle": 0, "titleFontSize": 29, "titleFontWeight": "bold", "titleAlign": "left", "titleBaseline": "alphabetic", "titleX": -58, "titleY": -28}},
     "text": {"value": ""}}}
  ]},
  {"data": {"name": "e1i"}, "layer": [
   {"mark": {"type": "bar", "filled": false, "fill": "#fff", "strokeWidth": 1}, "encoding": {
     "x": {"field": "g", "type": "nominal", "scale": {"domain": ["Ctrl","KO"], "range": [21, 78], "paddingInner": 0.3, "paddingOuter": 0.8}, "axis": {"orient": "bottom", "offset": -76, "title": null, "labelAngle": -55, "labelFontSize": 8, "labelPadding": 2, "tickSize": 2, "domainWidth": 1, "domainColor": "#333", "tickColor": "#333"}},
     "y": {"aggregate": "mean", "field": "v", "type": "quantitative", "scale": {"domain": [0, 50], "range": [50, -18], "nice": false}, "axis": {"orient": "left", "offset": -20, "values": [0,10,20,30,40,50], "tickCount": 20, "format": "d", "title": "25% recovery time", "titleFontSize": 8, "titlePadding": 2, "labelFontSize": 5.5, "labelPadding": 1, "tickSize": 2, "domainWidth": 1, "domainColor": "#333", "tickColor": "#333"}},
     "color": {"field": "g", "type": "nominal", "legend": null}}},
   {"mark": {"type": "errorbar", "extent": "stdev", "ticks": {"size": 5}, "thickness": 1}, "encoding": {"x": {"field": "g", "type": "nominal"}, "y": {"field": "v", "type": "quantitative", "title": "25% recovery time"}, "color": {"field": "g", "type": "nominal", "legend": null}}},
   {"mark": {"type": "point", "filled": true, "size": 10, "opacity": 1}, "encoding": {"x": {"field": "g", "type": "nominal"}, "xOffset": {"field": "r", "type": "nominal"}, "y": {"field": "v", "type": "quantitative", "title": "25% recovery time"}, "color": {"field": "g", "type": "nominal", "legend": null}}},
   {"data": {"values": [{}]}, "mark": {"type": "text", "fontSize": 7.5, "dx": 9, "dy": -6}, "encoding": {"x": {"datum": "Ctrl", "type": "nominal"}, "y": {"datum": 50, "type": "quantitative"}, "text": {"value": "p = 0.635"}}},
   {"data": {"values": [{}]}, "mark": {"type": "rule", "strokeWidth": 0.8}, "encoding": {"x": {"datum": "Ctrl", "type": "nominal"}, "x2": {"datum": "KO"}, "y": {"datum": 50, "type": "quantitative"}}},
   {"data": {"values": [{}]}, "mark": {"type": "rule", "strokeWidth": 0.8}, "encoding": {"x": {"datum": "Ctrl", "type": "nominal"}, "y": {"datum": 50, "type": "quantitative"}, "y2": {"datum": 45.6}}},
   {"data": {"values": [{}]}, "mark": {"type": "rule", "strokeWidth": 0.8}, "encoding": {"x": {"datum": "KO", "type": "nominal"}, "y": {"datum": 50, "type": "quantitative"}, "y2": {"datum": 46.3}}}
  ]}
 ]
},
{
 "width": 180, "height": 126,
 "resolve": {"scale": {"x": "independent", "y": "independent"}},
 "layer": [
  {"data": {"name": "e2"}, "resolve": {"axis": {"x": "independent"}}, "layer": [
   {"layer": [
    {"mark": {"type": "rule", "strokeWidth": 1.2}, "encoding": {
      "x": {"field": "t", "type": "quantitative", "scale": {"domain": [-4, 92], "nice": false}, "axis": {"values": [0,15,30,45,60,75,90], "tickCount": 20, "format": "d", "title": "Time after bleach (min)", "tickSize": 4, "domainWidth": 1.5, "labelPadding": 4, "titlePadding": 3, "titleFontSize": 14}},
      "y": {"field": "lo", "type": "quantitative", "scale": {"domain": [-0.1, 1.1], "nice": false}, "axis": {"values": [0,0.25,0.5,0.75,1], "tickCount": 20, "labelExpr": "datum.value == 0.25 || datum.value == 0.75 ? '' : format(datum.value, '.1f')", "title": null, "tickSize": 3, "domainWidth": 1.5, "labelFontSize": 14, "labelPadding": 10}},
      "y2": {"field": "hi"},
      "stroke": {"field": "g", "type": "nominal", "scale": {"domain": ["KO","Ctrl"], "range": ["#e4232b","#111111"]}, "legend": null}}},
    {"mark": {"type": "tick", "orient": "horizontal", "size": 5, "thickness": 1.2}, "encoding": {"x": {"field": "t", "type": "quantitative"}, "y": {"field": "hi", "type": "quantitative"}, "color": {"field": "g", "type": "nominal", "scale": {"domain": ["KO","Ctrl"], "range": ["#e4232b","#111111"]}, "legend": null}}},
    {"mark": {"type": "tick", "orient": "horizontal", "size": 5, "thickness": 1.2}, "encoding": {"x": {"field": "t", "type": "quantitative"}, "y": {"field": "lo", "type": "quantitative"}, "color": {"field": "g", "type": "nominal", "legend": null}}},
    {"mark": {"type": "line", "interpolate": "monotone", "strokeWidth": 1.6}, "encoding": {"x": {"field": "t", "type": "quantitative"}, "y": {"field": "m", "type": "quantitative"}, "stroke": {"field": "g", "type": "nominal", "legend": null}}},
    {"mark": {"type": "point", "filled": true, "opacity": 1, "size": 16}, "encoding": {"x": {"field": "t", "type": "quantitative"}, "y": {"field": "m", "type": "quantitative"}, "color": {"field": "g", "type": "nominal", "legend": null}}}
   ]},
   {"mark": {"type": "text"}, "encoding": {
     "x": {"datum": 0, "type": "quantitative", "axis": {"orient": "top", "domain": false, "ticks": false, "labels": false, "grid": false, "title": "6m", "titleFontSize": 17, "titleAlign": "center", "titleBaseline": "alphabetic", "titleX": 108, "titleY": -19}},
     "text": {"value": ""}}}
  ]},
  {"data": {"name": "e2i"}, "layer": [
   {"mark": {"type": "bar", "filled": false, "fill": "#fff", "strokeWidth": 1}, "encoding": {
     "x": {"field": "g", "type": "nominal", "scale": {"domain": ["Ctrl","KO"], "range": [21, 78], "paddingInner": 0.3, "paddingOuter": 0.8}, "axis": {"orient": "bottom", "offset": -76, "title": null, "labelAngle": -55, "labelFontSize": 8, "labelPadding": 2, "tickSize": 2, "domainWidth": 1, "domainColor": "#333", "tickColor": "#333"}},
     "y": {"aggregate": "mean", "field": "v", "type": "quantitative", "scale": {"domain": [0, 60], "range": [50, -18], "nice": false}, "axis": {"orient": "left", "offset": -20, "values": [0,20,40,60], "tickCount": 20, "format": "d", "title": "25% recovery time", "titleFontSize": 8, "titlePadding": 2, "labelFontSize": 5.5, "labelPadding": 1, "tickSize": 2, "domainWidth": 1, "domainColor": "#333", "tickColor": "#333"}},
     "color": {"field": "g", "type": "nominal", "legend": null}}},
   {"mark": {"type": "errorbar", "extent": "stdev", "ticks": {"size": 5}, "thickness": 1}, "encoding": {"x": {"field": "g", "type": "nominal"}, "y": {"field": "v", "type": "quantitative", "title": "25% recovery time"}, "color": {"field": "g", "type": "nominal", "legend": null}}},
   {"mark": {"type": "point", "filled": true, "size": 10, "opacity": 1}, "encoding": {"x": {"field": "g", "type": "nominal"}, "xOffset": {"field": "r", "type": "nominal"}, "y": {"field": "v", "type": "quantitative", "title": "25% recovery time"}, "color": {"field": "g", "type": "nominal", "legend": null}}},
   {"data": {"values": [{}]}, "mark": {"type": "text", "fontSize": 7.5, "dx": 9, "dy": -6}, "encoding": {"x": {"datum": "Ctrl", "type": "nominal"}, "y": {"datum": 60, "type": "quantitative"}, "text": {"value": "p = 0.048"}}},
   {"data": {"values": [{}]}, "mark": {"type": "rule", "strokeWidth": 0.8}, "encoding": {"x": {"datum": "Ctrl", "type": "nominal"}, "x2": {"datum": "KO"}, "y": {"datum": 60, "type": "quantitative"}}},
   {"data": {"values": [{}]}, "mark": {"type": "rule", "strokeWidth": 0.8}, "encoding": {"x": {"datum": "Ctrl", "type": "nominal"}, "y": {"datum": 60, "type": "quantitative"}, "y2": {"datum": 47}}},
   {"data": {"values": [{}]}, "mark": {"type": "rule", "strokeWidth": 0.8}, "encoding": {"x": {"datum": "KO", "type": "nominal"}, "y": {"datum": 60, "type": "quantitative"}, "y2": {"datum": 54.7}}}
  ]}
 ]
},
{
 "width": 180, "height": 126,
 "resolve": {"scale": {"x": "independent", "y": "independent"}},
 "layer": [
  {"data": {"name": "e3"}, "resolve": {"axis": {"x": "independent"}}, "layer": [
   {"layer": [
    {"mark": {"type": "rule", "strokeWidth": 1.2}, "encoding": {
      "x": {"field": "t", "type": "quantitative", "scale": {"domain": [-4, 92], "nice": false}, "axis": {"values": [0,15,30,45,60,75,90], "tickCount": 20, "format": "d", "title": "Time after bleach (min)", "tickSize": 4, "domainWidth": 1.5, "labelPadding": 4, "titlePadding": 3, "titleFontSize": 14}},
      "y": {"field": "lo", "type": "quantitative", "scale": {"domain": [-0.1, 1.1], "nice": false}, "axis": {"values": [0,0.25,0.5,0.75,1], "tickCount": 20, "labelExpr": "datum.value == 0.25 || datum.value == 0.75 ? '' : format(datum.value, '.1f')", "title": null, "tickSize": 3, "domainWidth": 1.5, "labelFontSize": 14, "labelPadding": 10}},
      "y2": {"field": "hi"},
      "stroke": {"field": "g", "type": "nominal", "scale": {"domain": ["KO","Ctrl"], "range": ["#e4232b","#111111"]}}}},
    {"mark": {"type": "tick", "orient": "horizontal", "size": 5, "thickness": 1.2}, "encoding": {"x": {"field": "t", "type": "quantitative"}, "y": {"field": "hi", "type": "quantitative"}, "color": {"field": "g", "type": "nominal", "scale": {"domain": ["KO","Ctrl"], "range": ["#e4232b","#111111"]}, "legend": null}}},
    {"mark": {"type": "tick", "orient": "horizontal", "size": 5, "thickness": 1.2}, "encoding": {"x": {"field": "t", "type": "quantitative"}, "y": {"field": "lo", "type": "quantitative"}, "color": {"field": "g", "type": "nominal", "legend": null}}},
    {"mark": {"type": "line", "interpolate": "monotone", "strokeWidth": 1.6}, "encoding": {"x": {"field": "t", "type": "quantitative"}, "y": {"field": "m", "type": "quantitative"}, "stroke": {"field": "g", "type": "nominal"}}},
    {"mark": {"type": "point", "filled": true, "opacity": 1, "size": 16}, "encoding": {"x": {"field": "t", "type": "quantitative"}, "y": {"field": "m", "type": "quantitative"}, "color": {"field": "g", "type": "nominal", "legend": null}}},
    {"transform": [{"filter": "false"}], "mark": {"type": "point", "filled": true, "opacity": 1}, "encoding": {
      "stroke": {"field": "g", "type": "nominal", "legend": {"orient": "none", "legendX": 130, "legendY": -33, "title": null, "symbolType": "M-1,0H1M-0.25,0A0.25,0.25,0,1,0,0.25,0A0.25,0.25,0,1,0,-0.25,0Z", "symbolSize": 360, "symbolStrokeWidth": 1.5, "labelFontSize": 15, "rowPadding": 1, "labelOffset": 4}},
      "fill": {"field": "g", "type": "nominal", "scale": {"domain": ["KO","Ctrl"], "range": ["#e4232b","#111111"]}, "legend": {"orient": "none", "legendX": 130, "legendY": -33, "title": null, "symbolType": "M-1,0H1M-0.25,0A0.25,0.25,0,1,0,0.25,0A0.25,0.25,0,1,0,-0.25,0Z", "symbolSize": 360, "symbolStrokeWidth": 1.5, "labelFontSize": 15, "rowPadding": 1, "labelOffset": 4}}}}
   ]},
   {"mark": {"type": "text"}, "encoding": {
     "x": {"datum": 0, "type": "quantitative", "axis": {"orient": "top", "domain": false, "ticks": false, "labels": false, "grid": false, "title": "9m", "titleFontSize": 17, "titleAlign": "center", "titleBaseline": "alphabetic", "titleX": 99, "titleY": -19}},
     "text": {"value": ""}}}
  ]},
  {"data": {"name": "e3i"}, "layer": [
   {"mark": {"type": "bar", "filled": false, "fill": "#fff", "strokeWidth": 1}, "encoding": {
     "x": {"field": "g", "type": "nominal", "scale": {"domain": ["Ctrl","KO"], "range": [21, 78], "paddingInner": 0.3, "paddingOuter": 0.8}, "axis": {"orient": "bottom", "offset": -76, "title": null, "labelAngle": -55, "labelFontSize": 8, "labelPadding": 2, "tickSize": 2, "domainWidth": 1, "domainColor": "#333", "tickColor": "#333"}},
     "y": {"aggregate": "mean", "field": "v", "type": "quantitative", "scale": {"domain": [0, 80], "range": [50, -18], "nice": false}, "axis": {"orient": "left", "offset": -20, "values": [0,20,40,60,80], "tickCount": 20, "format": "d", "title": "25% recovery time", "titleFontSize": 8, "titlePadding": 2, "labelFontSize": 5.5, "labelPadding": 1, "tickSize": 2, "domainWidth": 1, "domainColor": "#333", "tickColor": "#333"}},
     "color": {"field": "g", "type": "nominal", "legend": null}}},
   {"mark": {"type": "errorbar", "extent": "stdev", "ticks": {"size": 5}, "thickness": 1}, "encoding": {"x": {"field": "g", "type": "nominal"}, "y": {"field": "v", "type": "quantitative", "title": "25% recovery time"}, "color": {"field": "g", "type": "nominal", "legend": null}}},
   {"mark": {"type": "point", "filled": true, "size": 10, "opacity": 1}, "encoding": {"x": {"field": "g", "type": "nominal"}, "xOffset": {"field": "r", "type": "nominal"}, "y": {"field": "v", "type": "quantitative", "title": "25% recovery time"}, "color": {"field": "g", "type": "nominal", "legend": null}}},
   {"data": {"values": [{}]}, "mark": {"type": "text", "fontSize": 7.5, "dx": 9, "dy": -6}, "encoding": {"x": {"datum": "Ctrl", "type": "nominal"}, "y": {"datum": 80, "type": "quantitative"}, "text": {"value": "p = 0.024"}}},
   {"data": {"values": [{}]}, "mark": {"type": "rule", "strokeWidth": 0.8}, "encoding": {"x": {"datum": "Ctrl", "type": "nominal"}, "x2": {"datum": "KO"}, "y": {"datum": 80, "type": "quantitative"}}},
   {"data": {"values": [{}]}, "mark": {"type": "rule", "strokeWidth": 0.8}, "encoding": {"x": {"datum": "Ctrl", "type": "nominal"}, "y": {"datum": 80, "type": "quantitative"}, "y2": {"datum": 62.7}}},
   {"data": {"values": [{}]}, "mark": {"type": "rule", "strokeWidth": 0.8}, "encoding": {"x": {"datum": "KO", "type": "nominal"}, "y": {"datum": 80, "type": "quantitative"}, "y2": {"datum": 73}}}
  ]}
 ]
},
{
 "width": 181, "height": 136,
 "resolve": {"scale": {"x": "independent", "y": "independent"}},
 "layer": [
  {"data": {"name": "fko"}, "resolve": {"axis": {"x": "independent", "y": "independent"}}, "layer": [
   {"layer": [
    {"transform": [{"flatten": ["vs"], "as": ["v"]}], "mark": {"type": "point", "shape": "circle", "filled": false, "stroke": "#a8449c", "strokeWidth": 1.6, "size": 26, "opacity": 1}, "encoding": {
      "x": {"field": "x", "type": "quantitative", "scale": {"domain": [0, 0.69], "nice": false}, "axis": {"values": [0.1,0.2,0.3,0.4,0.5,0.6], "tickCount": 20, "format": ".1f", "ticks": false, "labelColor": "#555", "labelFontSize": 9.5, "labelPadding": 12, "domainColor": "#888", "domainWidth": 1.2, "title": "Spatial Frequency (Cyc/deg)", "titleFontSize": 15, "titlePadding": 6}},
      "y": {"field": "v", "type": "quantitative", "scale": {"domain": [0.5, 1.8], "nice": false}, "axis": {"values": [0.6,0.8,1,1.2,1.4,1.6], "tickCount": 20, "format": ".1f", "ticks": false, "labelColor": "#555", "labelFontSize": 9.5, "labelPadding": 7, "domainColor": "#888", "domainWidth": 1.2, "title": "OMRi", "titleFontSize": 15, "titlePadding": 10}}}},
    {"mark": {"type": "line", "color": "#111", "strokeWidth": 1.5}, "encoding": {"x": {"field": "x", "type": "quantitative"}, "y": {"field": "m", "type": "quantitative", "title": "OMRi"}}}
   ]},
   {"mark": {"type": "text"}, "encoding": {
     "x": {"datum": 0, "type": "quantitative", "axis": {"orient": "top", "domain": false, "ticks": false, "labels": false, "grid": false, "title": "KO", "titleFontSize": 14.5, "titleAlign": "center", "titleBaseline": "alphabetic", "titleX": 72, "titleY": -2}},
     "y": {"datum": 1, "type": "quantitative", "axis": {"orient": "left", "domain": false, "ticks": false, "labels": false, "grid": false, "title": "f", "titleAngle": 0, "titleFontSize": 29, "titleFontWeight": "bold", "titleAlign": "left", "titleBaseline": "alphabetic", "titleX": -57, "titleY": -25}},
     "text": {"value": ""}}}
  ]},
  {"data": {"name": "cko"}, "layer": [
   {"data": {"values": [{}]}, "mark": {"type": "rect", "fill": "#fff", "stroke": "#333", "strokeWidth": 1}, "encoding": {"x": {"datum": 0, "type": "quantitative", "scale": {"domain": [0, 1], "range": [140, 182]}, "axis": null}, "x2": {"datum": 1}, "y": {"datum": 0, "type": "quantitative", "scale": {"domain": [0, 1], "range": [47, 0]}, "axis": null}, "y2": {"datum": 1}}},
   {"mark": {"type": "line", "color": "#3d7cc4", "strokeWidth": 1.3, "interpolate": "monotone"}, "encoding": {"x": {"field": "cx", "type": "quantitative", "axis": null}, "y": {"field": "cy", "type": "quantitative", "axis": null}}},
   {"data": {"values": [{}]}, "mark": {"type": "rule", "color": "#111", "strokeWidth": 1}, "encoding": {"x": {"datum": 0.18, "type": "quantitative", "axis": null}, "y": {"datum": 0.67, "type": "quantitative", "axis": null}, "y2": {"datum": 0.53}}},
   {"data": {"values": [{}]}, "mark": {"type": "point", "shape": "triangle-down", "filled": true, "color": "#111", "size": 9, "opacity": 1}, "encoding": {"x": {"datum": 0.18, "type": "quantitative", "axis": null}, "y": {"datum": 0.52, "type": "quantitative", "axis": null}}}
  ]}
 ]
},
{
 "width": 181, "height": 136,
 "resolve": {"scale": {"x": "independent", "y": "independent"}},
 "layer": [
  {"data": {"name": "fctrl"}, "resolve": {"axis": {"x": "independent"}}, "layer": [
   {"layer": [
    {"transform": [{"flatten": ["vs"], "as": ["v"]}], "mark": {"type": "point", "shape": "circle", "filled": false, "stroke": "#a8449c", "strokeWidth": 1.6, "size": 26, "opacity": 1}, "encoding": {
      "x": {"field": "x", "type": "quantitative", "scale": {"domain": [0, 0.69], "nice": false}, "axis": {"values": [0.1,0.2,0.3,0.4,0.5,0.6], "tickCount": 20, "format": ".1f", "ticks": false, "labelColor": "#555", "labelFontSize": 9.5, "labelPadding": 12, "domainColor": "#888", "domainWidth": 1.2, "title": "Spatial Frequency (Cyc/deg)", "titleFontSize": 15, "titlePadding": 6}},
      "y": {"field": "v", "type": "quantitative", "scale": {"domain": [0.5, 1.8], "nice": false}, "axis": {"values": [0.6,0.8,1,1.2,1.4,1.6], "tickCount": 20, "format": ".1f", "ticks": false, "labelColor": "#555", "labelFontSize": 9.5, "labelPadding": 7, "domainColor": "#888", "domainWidth": 1.2, "title": null}}}},
    {"mark": {"type": "line", "color": "#111", "strokeWidth": 1.5}, "encoding": {"x": {"field": "x", "type": "quantitative"}, "y": {"field": "m", "type": "quantitative"}}}
   ]},
   {"mark": {"type": "text"}, "encoding": {
     "x": {"datum": 0, "type": "quantitative", "axis": {"orient": "top", "domain": false, "ticks": false, "labels": false, "grid": false, "title": "Ctrl", "titleFontSize": 14.5, "titleAlign": "center", "titleBaseline": "alphabetic", "titleX": 86, "titleY": -2}},
     "text": {"value": ""}}}
  ]},
  {"data": {"name": "cctrl"}, "layer": [
   {"data": {"values": [{}]}, "mark": {"type": "rect", "fill": "#fff", "stroke": "#333", "strokeWidth": 1}, "encoding": {"x": {"datum": 0, "type": "quantitative", "scale": {"domain": [0, 1], "range": [140, 182]}, "axis": null}, "x2": {"datum": 1}, "y": {"datum": 0, "type": "quantitative", "scale": {"domain": [0, 1], "range": [47, 0]}, "axis": null}, "y2": {"datum": 1}}},
   {"mark": {"type": "line", "color": "#3d7cc4", "strokeWidth": 1.3, "interpolate": "monotone"}, "encoding": {"x": {"field": "cx", "type": "quantitative", "axis": null}, "y": {"field": "cy", "type": "quantitative", "axis": null}}},
   {"data": {"values": [{}]}, "mark": {"type": "rule", "color": "#111", "strokeWidth": 1}, "encoding": {"x": {"datum": 0.18, "type": "quantitative", "axis": null}, "y": {"datum": 0.75, "type": "quantitative", "axis": null}, "y2": {"datum": 0.62}}},
   {"data": {"values": [{}]}, "mark": {"type": "point", "shape": "triangle-down", "filled": true, "color": "#111", "size": 9, "opacity": 1}, "encoding": {"x": {"datum": 0.18, "type": "quantitative", "axis": null}, "y": {"datum": 0.61, "type": "quantitative", "axis": null}}}
  ]}
 ]
},
{
 "width": 181, "height": 136,
 "resolve": {"scale": {"x": "independent", "y": "independent"}},
 "layer": [
  {"data": {"name": "fwt"}, "resolve": {"axis": {"x": "independent"}}, "layer": [
   {"layer": [
    {"transform": [{"flatten": ["vs"], "as": ["v"]}], "mark": {"type": "point", "shape": "circle", "filled": false, "stroke": "#a8449c", "strokeWidth": 1.6, "size": 26, "opacity": 1}, "encoding": {
      "x": {"field": "x", "type": "quantitative", "scale": {"domain": [0, 0.69], "nice": false}, "axis": {"values": [0.1,0.2,0.3,0.4,0.5,0.6], "tickCount": 20, "format": ".1f", "ticks": false, "labelColor": "#555", "labelFontSize": 9.5, "labelPadding": 12, "domainColor": "#888", "domainWidth": 1.2, "title": "Spatial Frequency (Cyc/deg)", "titleFontSize": 15, "titlePadding": 6}},
      "y": {"field": "v", "type": "quantitative", "scale": {"domain": [0.5, 1.8], "nice": false}, "axis": {"values": [0.6,0.8,1,1.2,1.4,1.6], "tickCount": 20, "format": ".1f", "ticks": false, "labelColor": "#555", "labelFontSize": 9.5, "labelPadding": 7, "domainColor": "#888", "domainWidth": 1.2, "title": null}}}},
    {"mark": {"type": "line", "color": "#111", "strokeWidth": 1.5}, "encoding": {"x": {"field": "x", "type": "quantitative"}, "y": {"field": "m", "type": "quantitative"}}}
   ]},
   {"mark": {"type": "text"}, "encoding": {
     "x": {"datum": 0, "type": "quantitative", "axis": {"orient": "top", "domain": false, "ticks": false, "labels": false, "grid": false, "title": "WT", "titleFontSize": 14.5, "titleAlign": "center", "titleBaseline": "alphabetic", "titleX": 84, "titleY": -2}},
     "text": {"value": ""}}}
  ]},
  {"data": {"name": "cwt"}, "layer": [
   {"data": {"values": [{}]}, "mark": {"type": "rect", "fill": "#fff", "stroke": "#333", "strokeWidth": 1}, "encoding": {"x": {"datum": 0, "type": "quantitative", "scale": {"domain": [0, 1], "range": [140, 182]}, "axis": null}, "x2": {"datum": 1}, "y": {"datum": 0, "type": "quantitative", "scale": {"domain": [0, 1], "range": [47, 0]}, "axis": null}, "y2": {"datum": 1}}},
   {"mark": {"type": "line", "color": "#3d7cc4", "strokeWidth": 1.3, "interpolate": "monotone"}, "encoding": {"x": {"field": "cx", "type": "quantitative", "axis": null}, "y": {"field": "cy", "type": "quantitative", "axis": null}}},
   {"data": {"values": [{}]}, "mark": {"type": "rule", "color": "#111", "strokeWidth": 1}, "encoding": {"x": {"datum": 0.16, "type": "quantitative", "axis": null}, "y": {"datum": 0.79, "type": "quantitative", "axis": null}, "y2": {"datum": 0.66}}},
   {"data": {"values": [{}]}, "mark": {"type": "point", "shape": "triangle-down", "filled": true, "color": "#111", "size": 9, "opacity": 1}, "encoding": {"x": {"datum": 0.16, "type": "quantitative", "axis": null}, "y": {"datum": 0.65, "type": "quantitative", "axis": null}}}
  ]}
 ]
}
],
"resolve": {"scale": {"x": "independent", "y": "independent", "color": "independent", "stroke": "independent", "fill": "independent", "shape": "independent"}}
}
